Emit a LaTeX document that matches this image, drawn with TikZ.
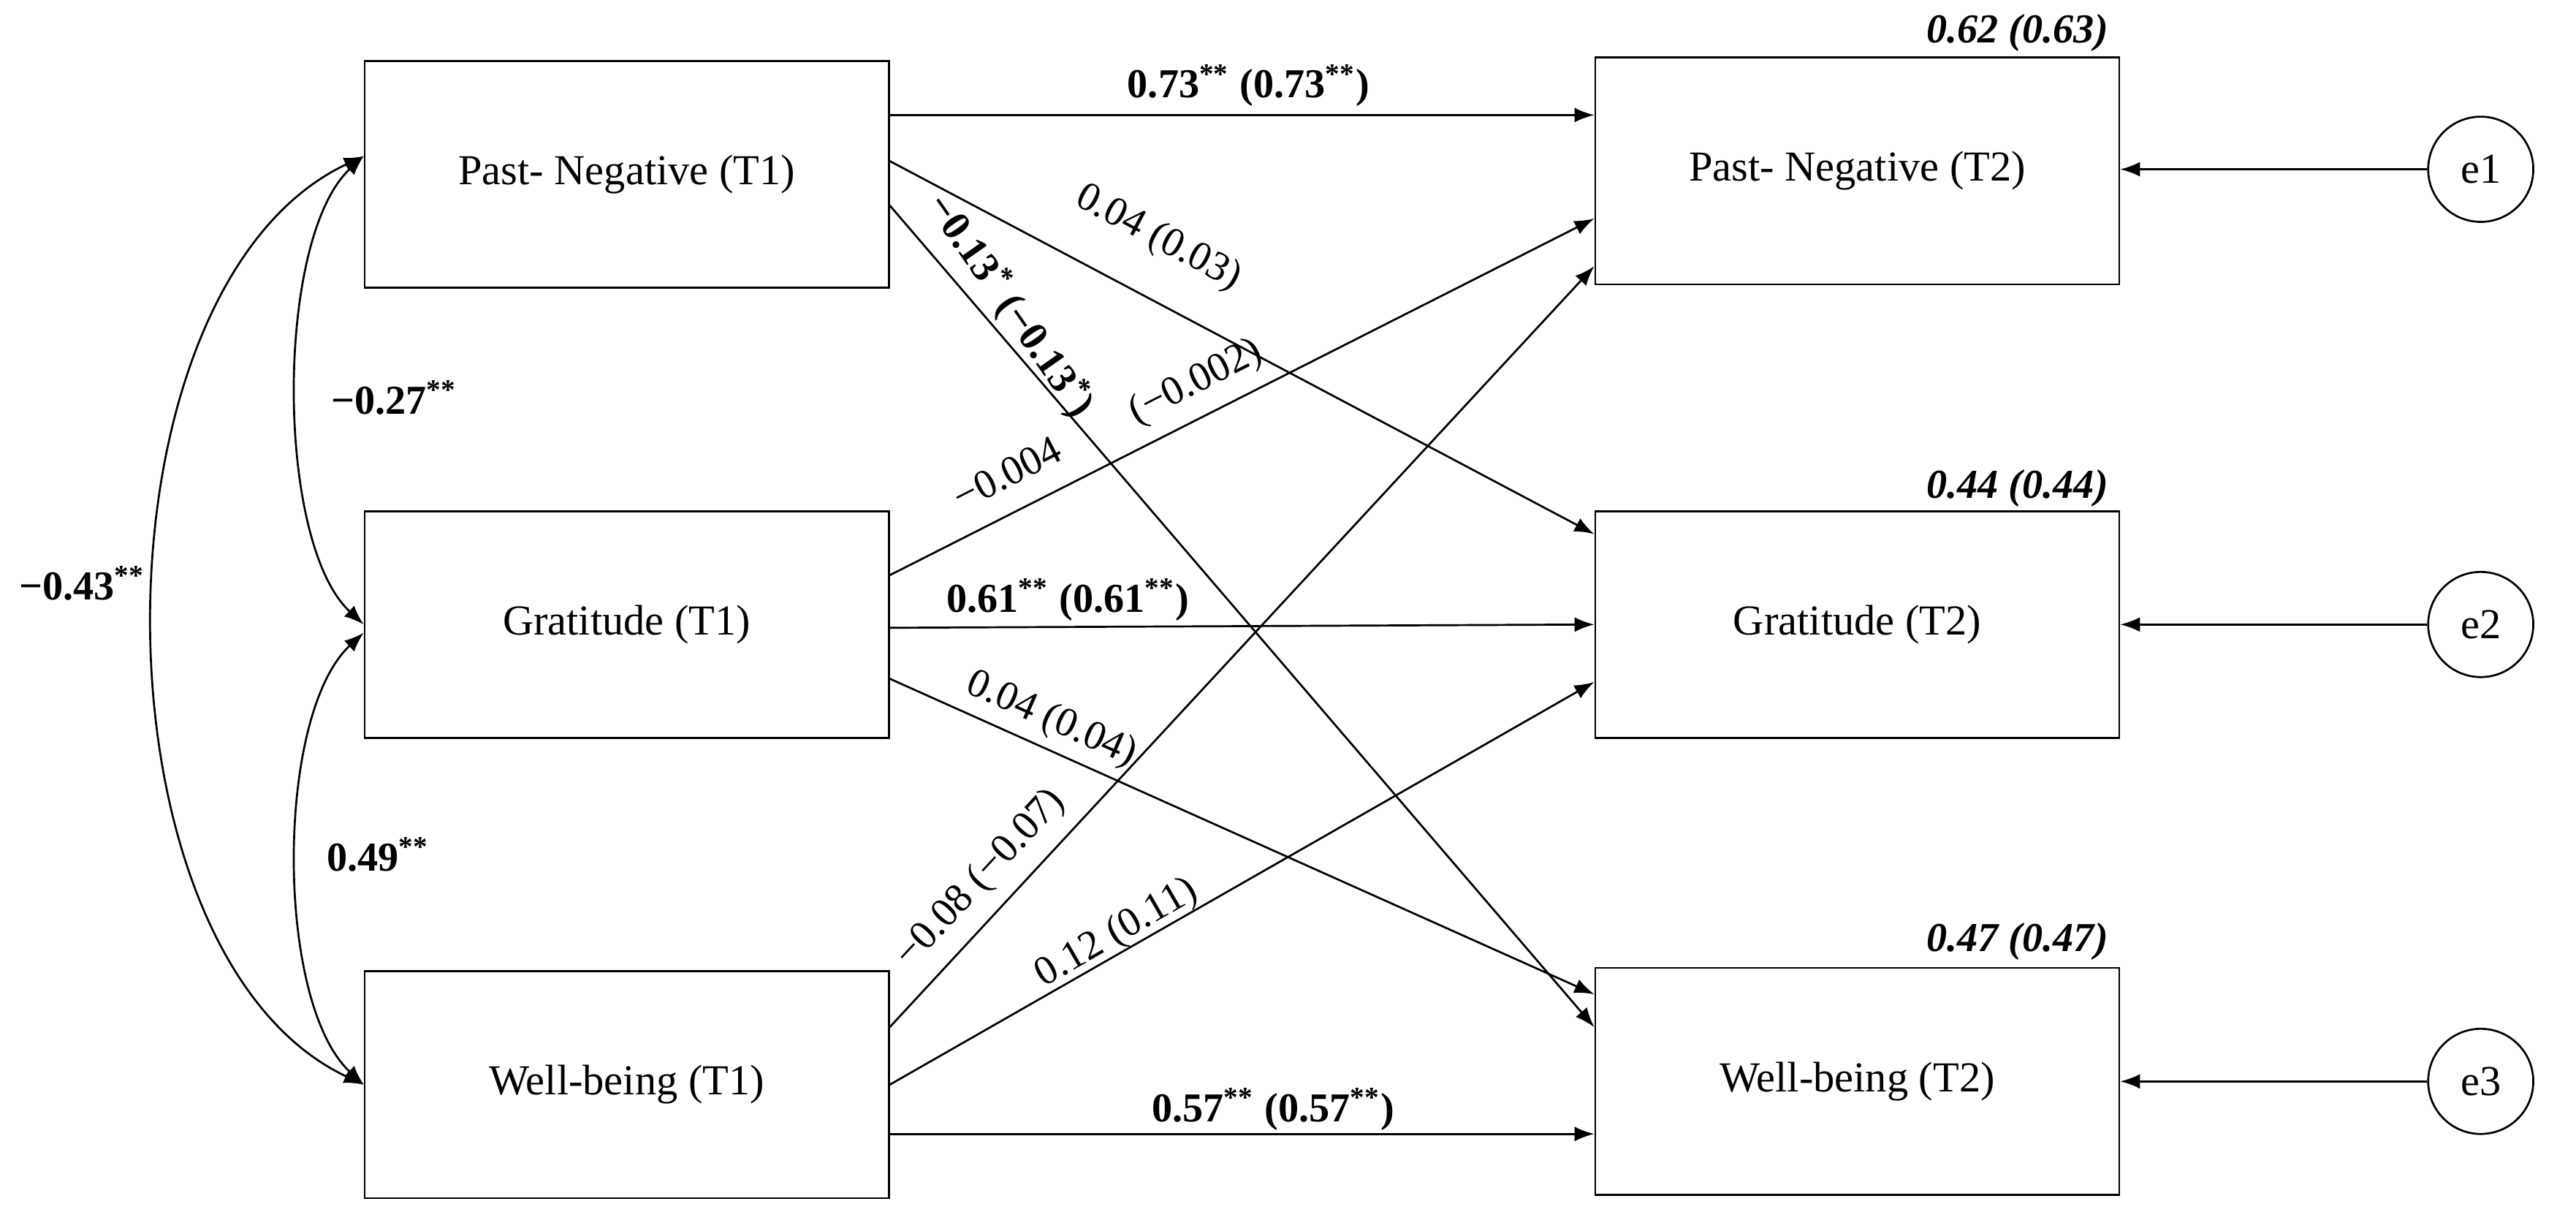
\documentclass[tikz,border=0pt]{standalone}
\usepackage{fontspec}
\setmainfont{Liberation Serif}
\usetikzlibrary{arrows.meta}
\begin{document}
\begin{tikzpicture}[x=0.5pt,y=-0.5pt,
  box/.style={draw,line width=0.6pt,minimum width=159.5pt,minimum height=69pt,inner sep=0pt,font=\fontsize{13}{15}\selectfont},
  err/.style={draw,circle,line width=0.6pt,minimum size=32pt,inner sep=0pt,font=\fontsize{13}{15}\selectfont},
  arr/.style={line width=0.6pt,-{Latex[length=6pt,width=4.5pt]}},
  cor/.style={line width=0.6pt,{Latex[length=6pt,width=4.5pt]}-{Latex[length=6pt,width=4.5pt]}},
  lab/.style={font=\fontsize{12.5}{14}\selectfont,inner sep=0pt},
  blab/.style={font=\fontsize{12.5}{14}\selectfont\bfseries,inner sep=0pt},
  rlab/.style={font=\fontsize{12.5}{14}\selectfont\bfseries\itshape,inner sep=0pt}]
\useasboundingbox (0,0) rectangle (1568,744);
\node[box] (pn1) at (381.5,106) {Past- Negative (T1)};
\node[box] (g1) at (381.5,380) {Gratitude (T1)};
\node[box] (w1) at (381.5,660) {Well-being (T1)};
\node[box] (pn2) at (1130.5,104) {Past- Negative (T2)};
\node[box] (g2) at (1130.5,380) {Gratitude (T2)};
\node[box] (w2) at (1130.5,658) {Well-being (T2)};
\node[err] (e1) at (1510,103) {e1};
\node[err] (e2) at (1510,380) {e2};
\node[err] (e3) at (1510,658) {e3};
\draw[arr] (e1) -- (e1 -| pn2.east);
\draw[arr] (e2) -- (e2 -| g2.east);
\draw[arr] (e3) -- (e3 -| w2.east);
% paths
\draw[arr] ([yshift=18pt]pn1.east) -- ([yshift=17pt]pn2.west);
\draw[arr] ([yshift=4pt]pn1.east) -- ([yshift=27.5pt]g2.west);
\draw[arr] ([yshift=-9.5pt]pn1.east) -- ([yshift=16.5pt]w2.west);
\draw[arr] ([yshift=15pt]g1.east) -- ([yshift=-14.5pt]pn2.west);
\draw[arr] ([yshift=-1pt]g1.east) -- (g2.west);
\draw[arr] ([yshift=-16.5pt]g1.east) -- ([yshift=26.5pt]w2.west);
\draw[arr] ([yshift=17.5pt]w1.east) -- ([yshift=-29pt]pn2.west);
\draw[arr] (w1.east) -- ([yshift=-17.5pt]g2.west);
\draw[arr] ([yshift=-15pt]w1.east) -- ([yshift=-16pt]w2.west);
% correlations
\draw[cor] ([yshift=5.5pt]pn1.west) .. controls +(-27pt,-25pt) and +(-27pt,25pt) .. (g1.west);
\draw[cor] ([yshift=-2.5pt]g1.west) .. controls +(-27pt,-25pt) and +(-27pt,25pt) .. (w1.west);
\draw[cor] ([yshift=5.5pt]pn1.west) .. controls +(-85pt,-40pt) and +(-85pt,40pt) .. (w1.west);
% labels
\node[blab] (l1) at (760,52) {0.73\textsuperscript{**} (0.73\textsuperscript{**})};
\node[blab] (l2) at (650,365) {0.61\textsuperscript{**} (0.61\textsuperscript{**})};
\node[blab] (l3) at (775,675) {0.57\textsuperscript{**} (0.57\textsuperscript{**})};
\node[blab] (l4) at (240,242) {−0.27\textsuperscript{**}};
\node[blab] (l5) at (230,520) {0.49\textsuperscript{**}};
\node[blab] (l6) at (50,355) {−0.43\textsuperscript{**}};
\node[rlab] (r1) at (1228,20) {0.62 (0.63)};
\node[rlab] (r2) at (1228,297) {0.44 (0.44)};
\node[rlab] (r3) at (1228,573) {0.47 (0.47)};
\node[lab,rotate=-28] (l7) at (705,145) {0.04 (0.03)};
\node[blab,rotate=-55] (l8) at (615,186) {−0.13\textsuperscript{*} (−0.13\textsuperscript{*})};
\node[lab,rotate=27] (l9) at (728,233) {(−0.002)};
\node[lab,rotate=27] (l10) at (613,288) {−0.004};
\node[lab,rotate=-24] (l11) at (640,438) {0.04 (0.04)};
\node[lab,rotate=47] (l12) at (597,535) {−0.08 (−0.07)};
\node[lab,rotate=30] (l13) at (680,568) {0.12 (0.11)};
\end{tikzpicture}
\end{document}
